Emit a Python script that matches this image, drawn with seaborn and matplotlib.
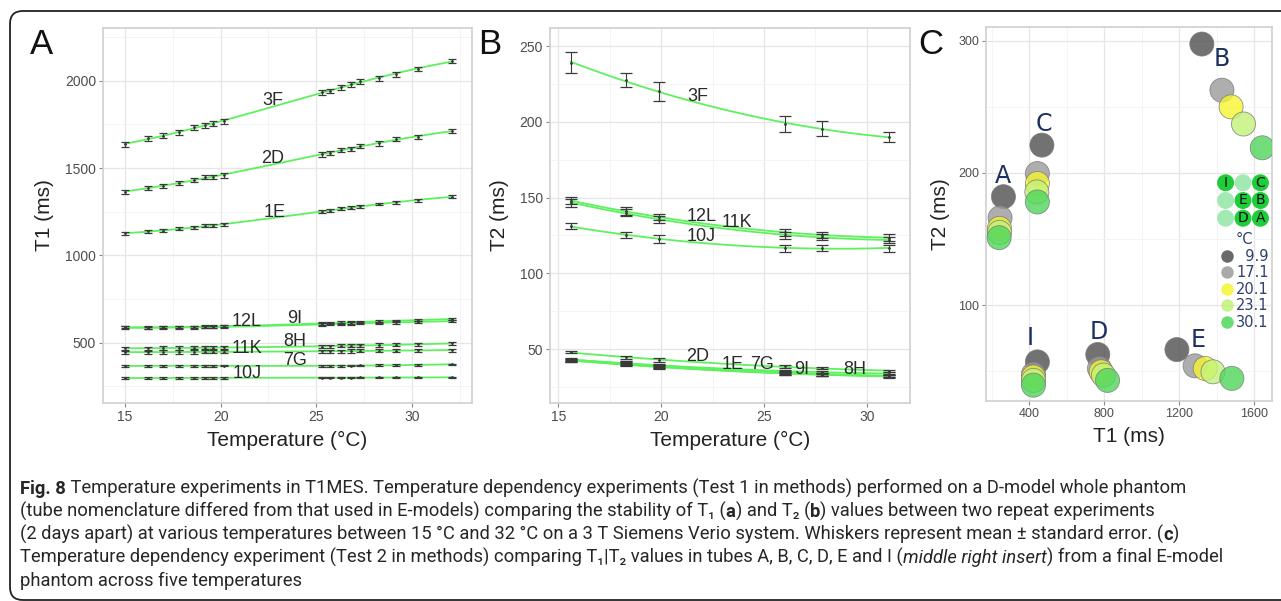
import numpy as np
import pandas as pd
import seaborn as sns
import matplotlib.pyplot as plt
from matplotlib.lines import Line2D
from matplotlib.patches import FancyBboxPatch
from matplotlib.ticker import MultipleLocator

# ---- panel A: T1 vs temperature (D-model phantom) ----
temps_a = [15.0, 16.2, 17.0, 17.8, 18.6, 19.2, 19.6, 20.2,
           25.3, 25.7, 26.3, 26.8, 27.3, 28.3, 29.2, 30.3, 32.1]
t1_values = {
    "3F": [1637, 1670, 1685, 1704, 1733, 1746, 1754, 1767, 1935, 1941, 1962, 1979, 1998, 2014, 2038, 2067, 2113],
    "2D": [1364, 1387, 1399, 1416, 1431, 1447, 1450, 1458, 1578, 1588, 1603, 1611, 1628, 1641, 1666, 1679, 1712],
    "1E": [1126, 1139, 1141, 1152, 1160, 1170, 1170, 1179, 1250, 1255, 1269, 1273, 1282, 1294, 1305, 1315, 1336],
    "12L": [586, 585, 586, 587, 588, 589, 590, 592, 605, 606, 608, 610, 612, 614, 616, 619, 624],
    "9I": [589, 588, 589, 590, 591, 592, 593, 595, 610, 612, 615, 617, 619, 622, 626, 629, 636],
    "8H": [468, 469, 470, 470, 471, 472, 472, 473, 478, 480, 482, 483, 485, 487, 489, 491, 496],
    "11K": [446, 446, 447, 447, 447, 448, 448, 448, 450, 451, 452, 453, 454, 455, 455, 456, 458],
    "7G": [367, 367, 367, 368, 368, 368, 368, 369, 366, 367, 368, 369, 370, 371, 372, 374, 376],
    "10J": [298, 298, 298, 298, 299, 299, 299, 299, 300, 300, 300, 300, 301, 301, 301, 301, 302],
}
t1_se = {"3F": 14, "2D": 12, "1E": 8, "12L": 7, "9I": 7, "8H": 9, "11K": 9, "7G": 5, "10J": 4}

# ---- panel B: T2 vs temperature ----
temps_b = [15.6, 18.3, 19.9, 26.0, 27.8, 31.1]
t2_values = {
    "3F": [239, 227.5, 220, 198.5, 195.5, 190],
    "12L": [148, 141, 137, 127, 125.5, 123.5],
    "11K": [146.5, 140, 135.5, 125, 124, 122],
    "10J": [131, 125.5, 122.5, 116.5, 117, 116.5],
    "2D": [48, 44.5, 42.7, 38.5, 37.5, 35.5],
    "1E": [42.8, 40.8, 38.8, 34.5, 33.5, 32.5],
    "7G": [42.2, 40.2, 38.2, 34, 33, 32],
    "9I": [43, 41, 39, 35.5, 34.8, 33.8],
    "8H": [42.5, 40, 38, 33.8, 33.2, 32.2],
}
t2_se = {
    "3F": [6.8, 4.6, 6.0, 5.3, 4.7, 3.3],
    "12L": [2.5, 2.5, 2.0, 2.5, 2.0, 2.5],
    "11K": [2.5, 2.5, 2.0, 2.5, 2.0, 2.0],
    "10J": [2.0, 2.0, 2.5, 2.5, 2.0, 2.5],
    "2D": [0.8, 1.2, 1.2, 0.8, 0.8, 0.8],
    "1E": [0.8, 1.0, 1.0, 1.0, 1.0, 0.8],
    "7G": [0.8, 1.0, 1.0, 1.0, 1.0, 0.8],
    "9I": [0.8, 1.0, 1.0, 1.0, 1.0, 0.8],
    "8H": [0.8, 1.0, 1.0, 1.0, 1.0, 0.8],
}

# ---- panel C: T1|T2 of E-model tubes at five temperatures ----
c_temps = [9.9, 17.1, 20.1, 23.1, 30.1]
c_tubes = ["A", "B", "C", "D", "E", "I"]
c_t1 = {"A": [263, 245, 242, 242, 240], "B": [1321, 1428, 1477, 1543, 1643],
        "C": [468, 444, 444, 441, 444], "D": [766, 775, 784, 796, 818],
        "E": [1188, 1285, 1339, 1380, 1481], "I": [444, 423, 423, 423, 423]}
c_t2 = {"A": [182, 166, 158, 155, 151], "B": [297.5, 262.6, 250, 237, 219],
        "C": [221, 199.5, 192, 185.6, 178], "D": [62.6, 52, 49.5, 47, 43],
        "E": [66.3, 54, 52, 49.5, 44.5], "I": [57, 47.7, 45.6, 43, 39.4]}
c_colors = ["#4f4f4f", "#9a9a9a", "#f5f531", "#c2f27a", "#4fd65a"]

# insert: tube layout, 3x3
insert_labels = ["I", "", "C", "", "E", "B", "", "D", "A"]
insert_cols = [0, 1, 2, 0, 1, 2, 0, 1, 2]
insert_rows = [2, 2, 2, 1, 1, 1, 0, 0, 0]

W, H = 1281, 601
sns.set_theme(style="whitegrid")
plt.rcParams["font.family"] = ["Liberation Sans", "DejaVu Sans"]

fig = plt.figure(figsize=(W / 100, H / 100), dpi=100)
fig.patch.set_facecolor("white")

def px_axes(x0, y0, x1, y1):
    return fig.add_axes([x0 / W, 1 - y1 / H, (x1 - x0) / W, (y1 - y0) / H])

def style_axes(ax, xminor, yminor, labelsize=10):
    ax.set_facecolor("white")
    for s in ax.spines.values():
        s.set_color("#cfcfcf")
        s.set_linewidth(1.2)
    ax.xaxis.set_minor_locator(MultipleLocator(xminor))
    ax.yaxis.set_minor_locator(MultipleLocator(yminor))
    ax.grid(which="major", color="#e6e6e6", linewidth=0.9)
    ax.grid(which="minor", color="#f2f2f2", linewidth=0.6)
    ax.tick_params(which="major", length=3, width=0.8, color="#888888",
                   labelcolor="#4d4d4d", labelsize=labelsize, pad=2, left=True, bottom=True)
    ax.tick_params(which="minor", length=0)

line_green = "#5ef05e"

def tube_panel(ax, temps, values, se, order, capsize):
    rows = []
    for tube, vals in values.items():
        errs = se[tube] if isinstance(se[tube], list) else [se[tube]] * len(vals)
        for t, v, e in zip(temps, vals, errs):
            rows.append({"tube": tube, "temp": t, "value": v, "se": e})
    df = pd.DataFrame(rows)
    for tube, sub in df.groupby("tube", sort=False):
        sns.regplot(data=sub, x="temp", y="value", order=order, scatter=False, ci=None,
                    ax=ax, line_kws={"color": line_green, "linewidth": 1.3})
        ax.errorbar(sub["temp"], sub["value"], yerr=sub["se"], fmt="o", ms=1.0,
                    color="#3a3a3a", ecolor="#3a3a3a", elinewidth=0.8,
                    capsize=capsize, capthick=0.9, zorder=4)
    return df

# ---- A ----
axA = px_axes(103, 28, 472, 403)
tube_panel(axA, temps_a, t1_values, t1_se, 3, 2.6)
style_axes(axA, 2.5, 250)
axA.set_xlim(13.85, 33.15)
axA.set_ylim(155, 2302)
axA.set_xticks([15, 20, 25, 30])
axA.set_yticks([500, 1000, 1500, 2000])
axA.set_xlabel("Temperature (°C)", fontsize=15, color="#222222", labelpad=5)
axA.set_ylabel("T1 (ms)", fontsize=15, color="#222222", labelpad=8)
labels_a = {"3F": (22.74, 1889), "2D": (22.74, 1557), "1E": (22.85, 1248),
            "12L": (21.37, 620), "9I": (23.9, 641), "11K": (21.37, 469),
            "8H": (23.9, 505), "7G": (23.9, 400), "10J": (21.37, 326)}
for name, (x, y) in labels_a.items():
    axA.text(x, y, name, fontsize=13, color="#2a2a2a", ha="center", va="center", zorder=5)

# ---- B ----
axB = px_axes(550, 28, 910, 403)
tube_panel(axB, temps_b, t2_values, t2_se, 2, 4.5)
style_axes(axB, 2.5, 25)
axB.set_xlim(14.6, 32.1)
axB.set_ylim(14.4, 261.9)
axB.set_xticks([15, 20, 25, 30])
axB.set_yticks([50, 100, 150, 200, 250])
axB.set_xlabel("Temperature (°C)", fontsize=15, color="#222222", labelpad=5)
axB.set_ylabel("T2 (ms)", fontsize=15, color="#222222", labelpad=8)
labels_b = {"3F": (21.8, 217), "12L": (21.97, 137.3), "11K": (23.68, 133.6),
            "10J": (21.97, 124), "2D": (21.8, 44.9), "1E": (23.5, 40.1),
            "7G": (24.9, 40.1), "9I": (26.84, 36.6), "8H": (29.43, 36.6)}
for name, (x, y) in labels_b.items():
    axB.text(x, y, name, fontsize=13, color="#2a2a2a", ha="center", va="center", zorder=5)

# ---- C ----
axC = px_axes(986, 27, 1272, 401)
rows = []
for tube in c_tubes:
    for temp, t1, t2 in zip(c_temps, c_t1[tube], c_t2[tube]):
        rows.append({"tube": tube, "temp": str(temp), "T1": t1, "T2": t2})
dfC = pd.DataFrame(rows)
temp_palette = dict(zip([str(t) for t in c_temps], c_colors))
sns.scatterplot(data=dfC, x="T1", y="T2", hue="temp", palette=temp_palette, s=300,
                alpha=0.8, edgecolor="#777777", linewidth=0.6, ax=axC, legend=False, zorder=3)
style_axes(axC, 200, 50, labelsize=9)
axC.set_xlim(170, 1695)
axC.set_ylim(27.4, 310.4)
axC.set_xticks([400, 800, 1200, 1600])
axC.set_yticks([100, 200, 300])
axC.set_xlabel("T1 (ms)", fontsize=15, color="#222222", labelpad=5)
axC.set_ylabel("T2 (ms)", fontsize=15, color="#222222", labelpad=6)
labels_c = {"A": (261, 198), "B": (1428, 286), "C": (476, 237),
            "I": (405, 74.8), "D": (770, 79.8), "E": (1303, 73.5)}
for name, (x, y) in labels_c.items():
    axC.text(x, y, name, fontsize=17, color="#1c2f5e", ha="center", va="center",
             family="DejaVu Sans", zorder=5)

handles = [Line2D([], [], marker="o", linestyle="", markersize=9, markerfacecolor=c,
                  markeredgecolor="none", alpha=0.85) for c in c_colors]
leg = axC.legend(handles, ["\u2007" + f"{t}" if t < 10 else f"{t}" for t in c_temps],
                 title="°C", loc="upper right", bbox_to_anchor=(1.025, 0.478),
                 frameon=False, handletextpad=0.1, labelspacing=0.1, borderpad=0.2,
                 handlelength=1.0, prop={"family": "DejaVu Sans", "size": 10.5},
                 title_fontproperties={"family": "DejaVu Sans", "size": 10.5})
for t in leg.get_texts():
    t.set_color("#2f3f6f")
leg.get_title().set_color("#2f3f6f")

# insert with tube layout
axI = px_axes(1216, 173, 1270, 228)
dfI = pd.DataFrame({"col": insert_cols, "row": insert_rows, "label": insert_labels})
dfI["filled"] = dfI["label"] != ""
sns.scatterplot(data=dfI, x="col", y="row", hue="filled",
                palette={True: "#1fcc3a", False: "#a3e9b3"}, s=150,
                edgecolor="none", ax=axI, legend=False)
for _, r in dfI.iterrows():
    axI.text(r["col"], r["row"], r["label"], fontsize=10, ha="center", va="center",
             color="#111111", family="DejaVu Sans")
axI.set_xlim(-0.55, 2.55)
axI.set_ylim(-0.55, 2.55)
axI.axis("off")

# panel letters
for letter, x, y in [("A", 42, 44), ("B", 490, 44), ("C", 931, 44)]:
    fig.text(x / W, 1 - y / H, letter, fontsize=25, ha="center", va="center", color="#111111")

# rounded frame
frame = FancyBboxPatch((10 / W, 1 - 600 / H), 1.2, (600 - 11) / H,
                       boxstyle="round,pad=0,rounding_size=0.01",
                       transform=fig.transFigure, facecolor="none",
                       edgecolor="#222222", linewidth=1.3, mutation_aspect=W / H)
fig.patches.append(frame)

# caption, sized so the lines end roughly where they end in the original
cap_font = ["Roboto", "DejaVu Sans"]
caption = [
    [("Fig. 8", "bold", "normal"),
     (" Temperature experiments in T1MES. Temperature dependency experiments (Test 1 in methods) performed on a D-model whole phantom", "normal", "normal")],
    [("(tube nomenclature differed from that used in E-models) comparing the stability of T\u2081 (", "normal", "normal"),
     ("a", "bold", "normal"), (") and T\u2082 (", "normal", "normal"), ("b", "bold", "normal"),
     (") values between two repeat experiments", "normal", "normal")],
    [("(2 days apart) at various temperatures between 15 °C and 32 °C on a 3 T Siemens Verio system. Whiskers represent mean ± standard error. (", "normal", "normal"),
     ("c", "bold", "normal"), (")", "normal", "normal")],
    [("Temperature dependency experiment (Test 2 in methods) comparing T\u2081|T\u2082 values in tubes A, B, C, D, E and I (", "normal", "normal"),
     ("middle right insert", "normal", "italic"), (") from a final E-model", "normal", "normal")],
    [("phantom across five temperatures", "normal", "normal")],
]
cap_y = [494, 517, 540, 563, 586]
cap_ends = [1262, 1180, 1262, 1222, 300]
renderer = fig.canvas.get_renderer()

def caption_line(segs, yb, size, draw=True):
    x = 20
    made = []
    for txt, weight, style in segs:
        t = fig.text(x / W, 1 - yb / H, txt, fontsize=size, family=cap_font,
                     weight=weight, style=style, color="#262626", va="baseline")
        x += t.get_window_extent(renderer).width
        made.append(t)
    if not draw:
        for t in made:
            t.remove()
    return x - 20

cap_size = min(12 * (end - 20) / caption_line(segs, yb, 12, draw=False)
               for segs, yb, end in zip(caption[:4], cap_y, cap_ends))
for segs, yb in zip(caption, cap_y):
    caption_line(segs, yb, cap_size)

fig.savefig("out.png", dpi=100)
